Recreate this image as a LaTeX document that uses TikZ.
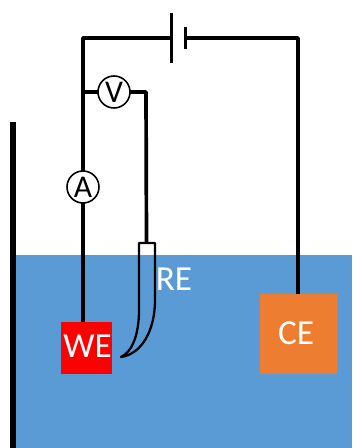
\documentclass[tikz,border=0pt]{standalone}
\usepackage{fontspec}
\setmainfont{Carlito}
\usepackage{tikz}
\usetikzlibrary{positioning, calc}

\definecolor{electrolyte}{RGB}{91,155,213}
\definecolor{ceOrange}{RGB}{237,125,49}

\newlength{\pxu}
\setlength{\pxu}{0.02cm}
\tikzset{
    wire/.style={draw=black, line width=2.1pt},
    meter/.style={circle, draw=black, fill=white, line width=0.9pt, minimum size=32\pxu, inner sep=0pt, font=\fontsize{18}{18}\selectfont},
    electrode/.style={rectangle, draw=none, inner sep=0pt, text=white, font=\fontsize{20}{20}\selectfont},
}

\begin{document}
\begin{tikzpicture}[x=0.02cm, y=-0.02cm]
        \useasboundingbox (0,0) rectangle (352,448);

        % Define electrolyte and tank wall
        \fill[electrolyte] (13,255) rectangle (352,448);
        \draw[black, line width=3pt] (13,122) -- (13,448);

        % Define electrodes
        \node[electrode, fill=red, minimum width=51\pxu, minimum height=52\pxu] (we) at (86.5,348) {};
        \node[electrode, fill=ceOrange, minimum width=77\pxu, minimum height=80\pxu] (ce) at (298.5,334) {};
        \node[electrode] (weText) at (87.5,346) {WE};
        \node[electrode] (ceText) at (296,333) {CE};
        \node[electrode] (reText) at (174,279) {RE};

        % Define junctions
        \coordinate (corner) at (83,38);
        \coordinate (tap) at (83,92);
        \coordinate (cornerRight) at (298,38);
        \coordinate (plateLong) at (171.5,38);
        \coordinate (plateShort) at (185.5,38);
        \coordinate (reCorner) at (146,92);
        \coordinate (reTop) at (146.5,243);

        % Draw wires
        \draw[wire, line join=round] (we.north -| corner) -- (corner) -- (plateLong);
        \draw[wire, line join=round] (plateShort) -- (cornerRight) -- (ce.north -| cornerRight);
        \draw[wire, line join=round] (tap) -- (reCorner) -- (reTop);

        % Draw battery plates
        \draw[wire] ([yshift=25\pxu]plateLong) -- ([yshift=-25\pxu]plateLong);
        \draw[wire] ([yshift=11\pxu]plateShort) -- ([yshift=-11\pxu]plateShort);

        % Place meters on the wires
        \node[meter] (voltmeter) at (114,92) {V};
        \node[meter] (ammeter) at (83,187) {A};

        % Draw the reference electrode
        \draw[black, line width=1.3pt, line join=round] (139,243) -- (155,243) -- (155,300)
            .. controls (155,330) and (142,354) .. (121,357)
            .. controls (132,352) and (139,335) .. (139,310) -- cycle;
\end{tikzpicture}
\end{document}
